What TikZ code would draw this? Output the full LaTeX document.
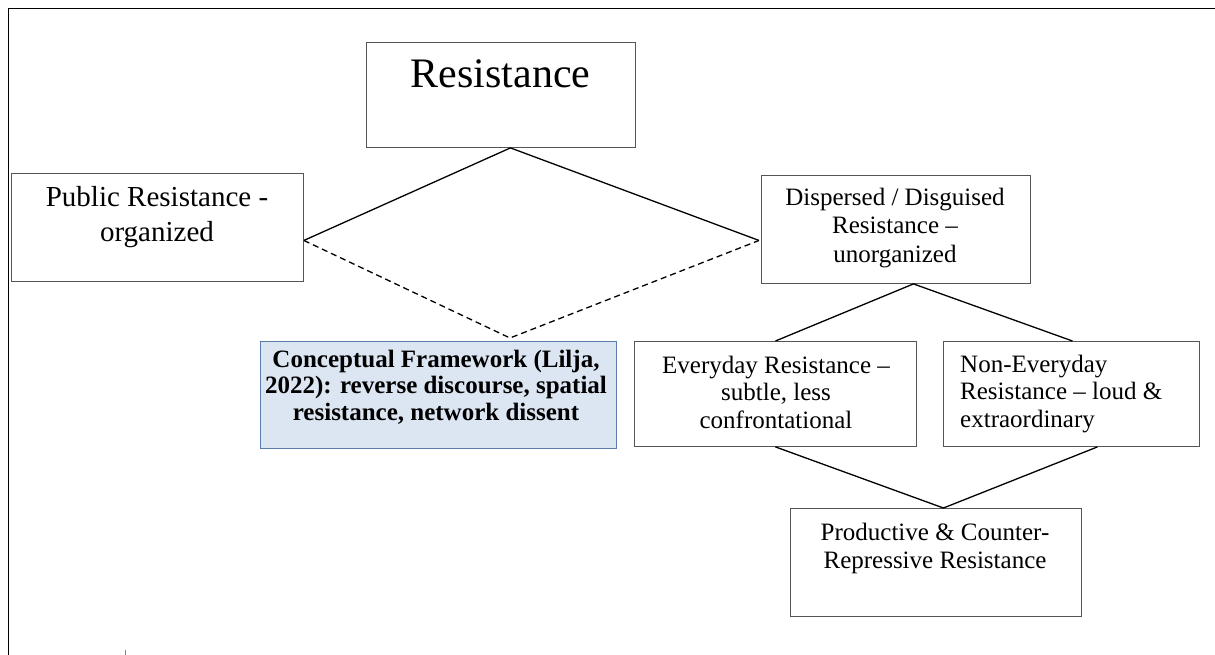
\documentclass[tikz,border=0pt]{standalone}
\usepackage{fontspec}
\setmainfont{Liberation Serif}
\usetikzlibrary{calc}
\definecolor{boxline}{HTML}{555555}
\definecolor{cfill}{HTML}{DCE5F2}
\definecolor{cline}{HTML}{5A7DAE}
\begin{document}
\begin{tikzpicture}[x=1pt,y=-1pt,
  box/.style={draw=boxline, line width=0.9pt, rectangle, anchor=north west, inner sep=0pt},
  conbox/.style={box, draw=cline, fill=cfill},
  link/.style={line width=1.3pt, black},
  dlink/.style={link, dash pattern=on 6pt off 4pt},
  % texts are placed by the baseline of their last line
  txt/.style={anchor=base, align=center, inner sep=0pt, font=\fontsize{25}{28}\selectfont},
  ltxt/.style={txt, anchor=base west, align=left},
]
\useasboundingbox (0,0) rectangle (1215,655);

% page frame (top and left rules) and the small mark at the foot
\coordinate (ftl) at (8.5,8.5);
\coordinate (ftr) at (1215,8.5);
\coordinate (fbl) at (8.5,655);
\draw[line width=1.8pt] (fbl) -- (ftl) -- (ftr);
\coordinate (mk1) at (125,650);
\coordinate (mk2) at (125,655);
\draw[gray, line width=1pt] (mk1) -- (mk2);

% boxes
\node[box, minimum width=269pt, minimum height=105pt] (res) at (366,42) {};
\node[box, minimum width=292pt, minimum height=108pt] (pub) at (11,173) {};
\node[box, minimum width=269pt, minimum height=108pt] (dis) at (761,175) {};
\node[conbox, minimum width=356pt, minimum height=107pt] (con) at (260,341) {};
\node[box, minimum width=282pt, minimum height=105pt] (eve) at (634,341) {};
\node[box, minimum width=256pt, minimum height=105pt] (non) at (943,341) {};
\node[box, minimum width=291pt, minimum height=108pt] (pro) at (790,508) {};

% box texts
\node[txt, font=\fontsize{42}{48}\selectfont] (res-t) at (500.5,88) {Resistance};
\node[txt, font=\fontsize{29}{35}\selectfont] (pub-t) at (157,241) {Public Resistance -\\organized};
\node[txt, font=\fontsize{25}{28.5}\selectfont] (dis-t) at (895,262) {Dispersed / Disguised\\Resistance –\\unorganized};
\node[txt, font=\fontsize{25}{26.5}\selectfont\bfseries] (con-t) at (436,420) {Conceptual Framework (Lilja,\\2022): reverse discourse, spatial\\resistance, network dissent};
\node[txt, font=\fontsize{25}{27.5}\selectfont] (eve-t) at (776,428) {Everyday Resistance –\\subtle, less\\confrontational};
\node[ltxt, font=\fontsize{25}{27.5}\selectfont] (non-t) at (960,427) {Non-Everyday\\Resistance – loud \&\\extraordinary};
\node[txt, font=\fontsize{25}{28}\selectfont] (pro-t) at (935,568) {Productive \& Counter-\\Repressive Resistance};

% attachment points of the connectors
\coordinate (res-a) at ($(res.south)+(9.5,0)$);
\coordinate (pub-a) at ($(pub.east)+(0,13)$);
\coordinate (dis-a) at ($(dis.west)+(-2,11)$);
\coordinate (dash-a) at (510,338);
\coordinate (dis-b) at ($(dis.south)+(17.5,0)$);
\coordinate (non-a) at ($(non.north)+(1,0)$);
\coordinate (non-b) at ($(non.south)+(26,0)$);
\coordinate (pro-a) at ($(pro.north)+(7.5,0)$);

% connectors
\draw[link] (pub-a) -- (res-a) -- (dis-a);
\draw[dlink] (pub-a) -- (dash-a) -- (dis-a);
\draw[link] (eve.north) -- (dis-b) -- (non-a);
\draw[link] (eve.south) -- (pro-a) -- (non-b);
\end{tikzpicture}
\end{document}
